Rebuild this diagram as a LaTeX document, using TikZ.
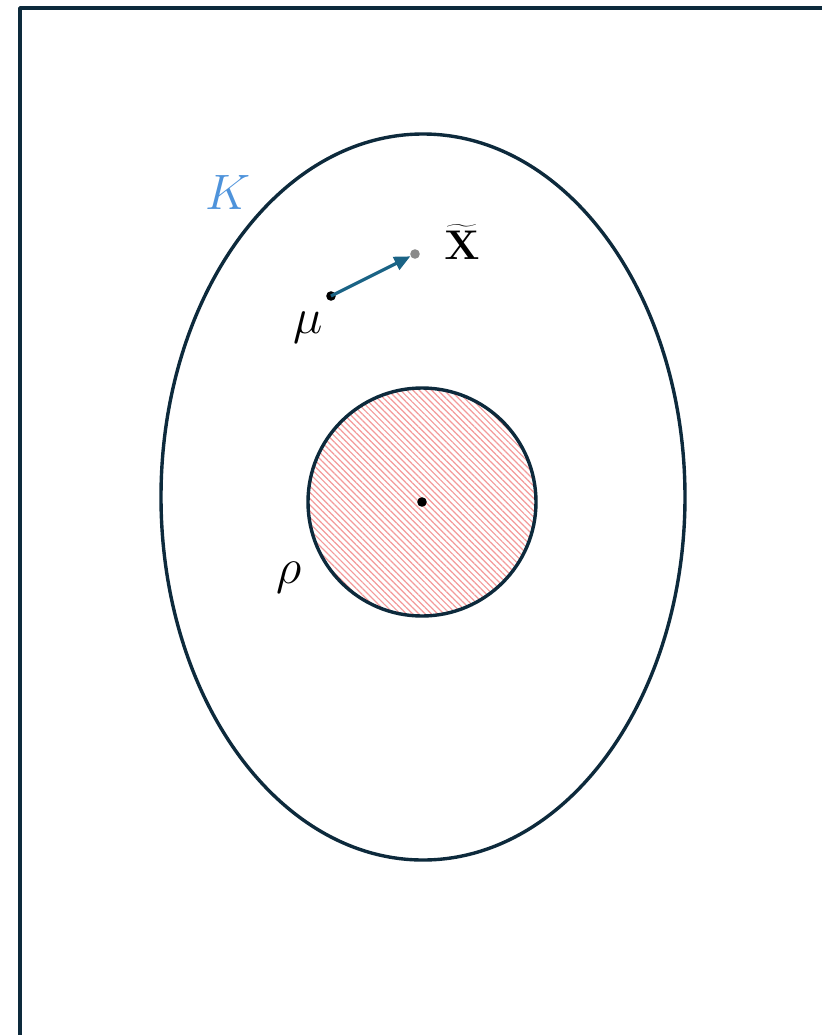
\documentclass[tikz,border=0pt]{standalone}
\usetikzlibrary{patterns.meta,arrows.meta}

\definecolor{ink}{HTML}{0D2A3C}
\definecolor{setblue}{HTML}{4E93DB}
\definecolor{arrowblue}{HTML}{1A6385}
\definecolor{hatch}{HTML}{F49A9A}
\definecolor{pointgrey}{HTML}{8A8A8A}

\begin{document}
\begin{tikzpicture}[
  x=0.5pt, y=-0.5pt,
  line join=round,
  edge/.style={line width=1.7pt, draw=ink},
  dot/.style={circle, fill=black, inner sep=0pt, minimum size=4.8pt},
  lbl/.style={font=\fontsize{27}{30}\selectfont},
]
\useasboundingbox (0,0) rectangle (822,1035);

% ── the frame, open to the right and below ───────────────────────────────
\draw[edge] (20,1040) -- (20,8) -- (830,8);

% ── the set K and the ball inside it ─────────────────────────────────────
\draw[edge] (423,497) ellipse [x radius=262, y radius=363];
\fill[white] (422,502) circle (114);
\fill[pattern={Lines[angle=-45,distance=2.2pt,line width=0.6pt]}, pattern color=hatch]
  (422,502) circle (114);
\draw[edge] (422,502) circle (114);

\node[dot] (c) at (422,502) {};
\node[lbl, text=setblue] (K) at (228,192) {$K$};
\node[lbl] (rho) at (289,578) {$\rho$};

% ── mu and the point it is pushed towards ────────────────────────────────
\node[dot] (mu) at (331,296) {};
\node[dot, fill=pointgrey] (xt) at (415,254) {};
\node[lbl] (mulbl) at (308,328) {$\mu$};
\node[font=\fontsize{22}{26}\selectfont] (xlbl) at (462,242) {$\widetilde{\mathbf{X}}$};

\draw[arrowblue, line width=1.6pt, -{Triangle[length=8pt,width=7pt]}]
  (mu.center) -- (xt);

\end{tikzpicture}
\end{document}
